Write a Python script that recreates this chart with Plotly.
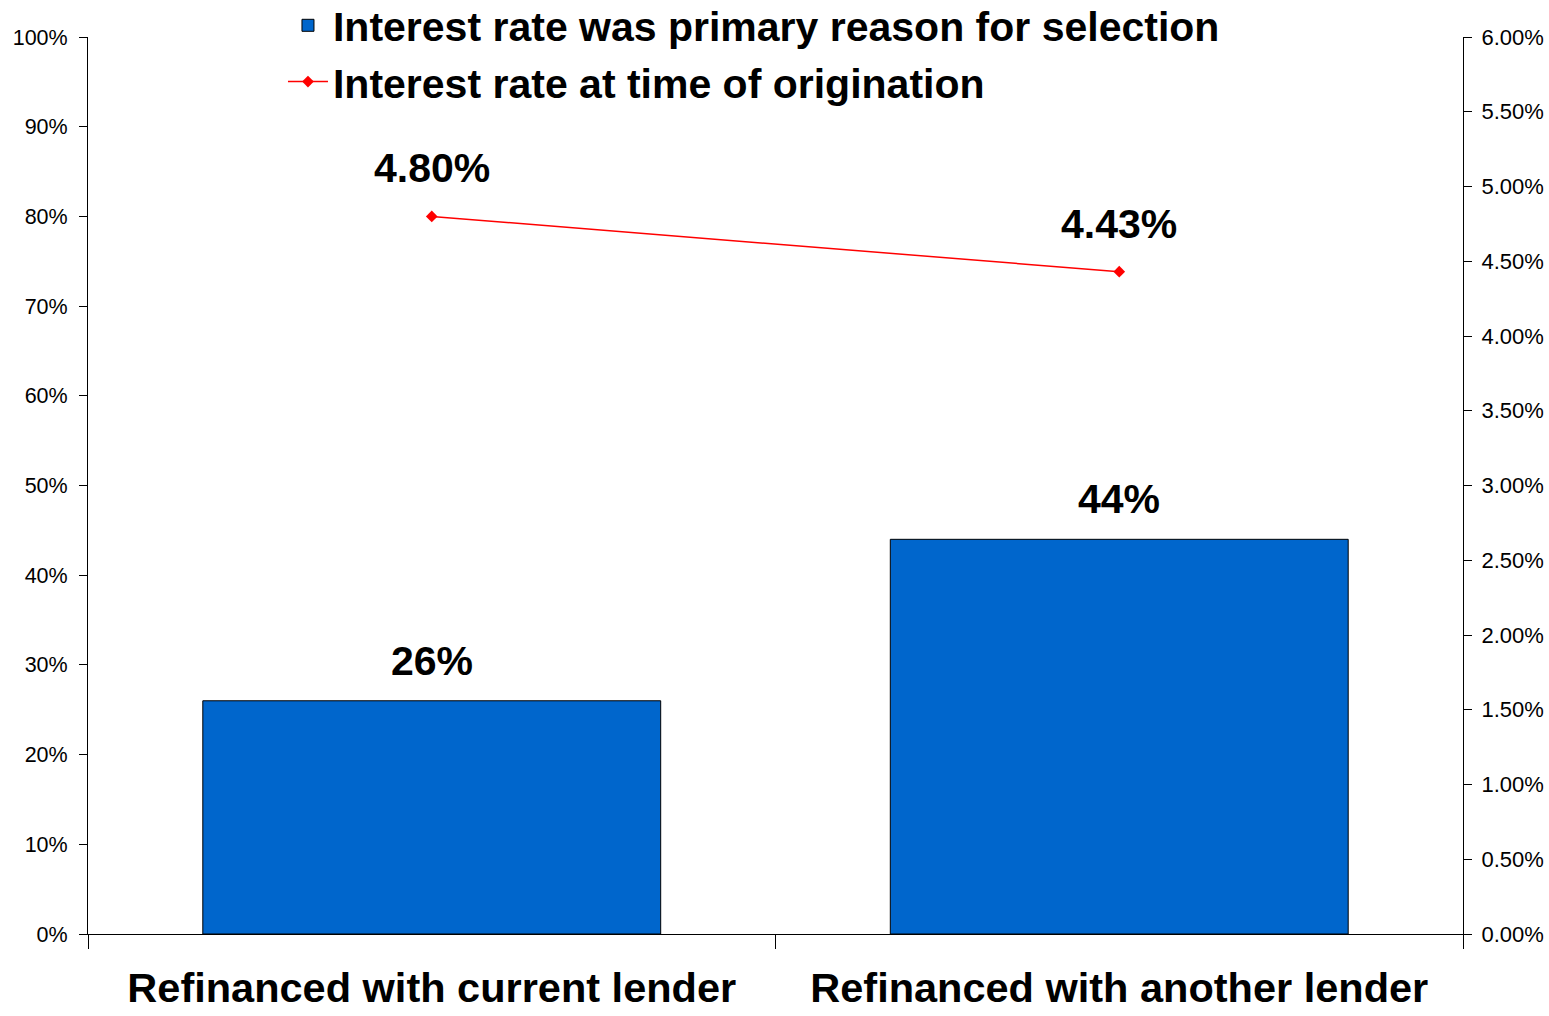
import plotly.graph_objects as go

categories = ["Refinanced with current lender", "Refinanced with another lender"]
primary_reason = [0.26, 0.44]
rate_at_origination = [0.048, 0.0443]
bar_name = "Interest rate was primary reason for selection"
line_name = "Interest rate at time of origination"

FONT = "Liberation Sans, Arial, sans-serif"

fig = go.Figure()
fig.add_trace(go.Bar(
    x=categories, y=primary_reason, name=bar_name, width=0.666,
    marker=dict(color="#0066CC", line=dict(color="black", width=1)),
    yaxis="y",
))
fig.add_trace(go.Scatter(
    x=categories, y=rate_at_origination, name=line_name, mode="lines+markers",
    line=dict(color="#FF0000", width=1.5),
    marker=dict(symbol="diamond", size=9, color="#FF0000"),
    yaxis="y2",
))

for c, v in zip(categories, primary_reason):
    fig.add_annotation(x=c, y=v, xref="x", yref="y", text=f"{v*100:.0f}%",
                       showarrow=False, yshift=40,
                       font=dict(family=FONT, size=41, color="black", weight="bold"))
for c, v in zip(categories, rate_at_origination):
    fig.add_annotation(x=c, y=v, xref="x", yref="y2", text=f"{v*100:.2f}%",
                       showarrow=False, yshift=48,
                       font=dict(family=FONT, size=41, color="black", weight="bold"))

fig.update_layout(
    width=1549, height=1016,
    margin=dict(l=88, r=86, t=37, b=82, autoexpand=False),
    paper_bgcolor="white", plot_bgcolor="white",
    font=dict(family=FONT, color="black"),
    showlegend=True,
    legend=dict(x=0.1418, y=1.050, xanchor="left", yanchor="top",
                font=dict(family=FONT, size=41, color="black", weight="bold"),
                bgcolor="rgba(0,0,0,0)", tracegroupgap=0, itemwidth=40),
    xaxis=dict(
        type="category", showline=True, linecolor="black", linewidth=1,
        ticks="outside", tickson="boundaries", ticklen=14, tickcolor="black",
        tickfont=dict(family=FONT, size=41.5, color="black", weight="bold"),
        ticklabelstandoff=17, showgrid=False, zeroline=False,
        range=[-0.5, 1.5], automargin=False,
    ),
    yaxis=dict(
        range=[0, 1], dtick=0.1, tickformat=".0%", showline=True,
        linecolor="black", linewidth=1, ticks="outside", ticklen=8,
        tickcolor="black", tickfont=dict(family=FONT, size=21.5, color="black"),
        ticklabelstandoff=7,
        showgrid=False, zeroline=False, automargin=False,
    ),
    yaxis2=dict(
        range=[0, 0.06], dtick=0.005, tickformat=".2%", overlaying="y",
        side="right", showline=True, linecolor="black", linewidth=1,
        ticks="outside", ticklen=8, tickcolor="black",
        tickfont=dict(family=FONT, size=22, color="black"),
        ticklabelstandoff=5,
        showgrid=False, zeroline=False, automargin=False,
    ),
)

fig.write_html("out.html", config={"displayModeBar": False},
               post_script="document.body.style.margin='0';document.body.style.overflow='hidden';")
